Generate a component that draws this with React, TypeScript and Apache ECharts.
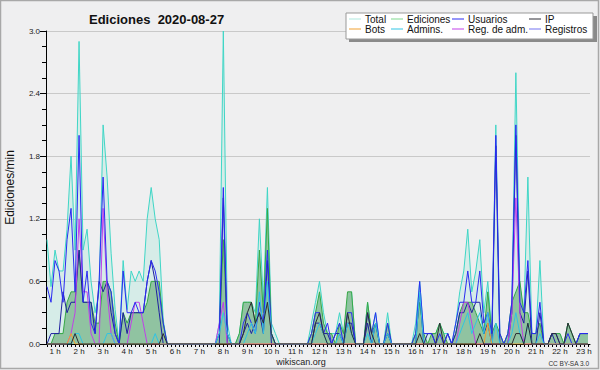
import React, { useEffect, useRef } from "react";
import * as echarts from "echarts";

// 10-minute bins; the first value shown is bin 4 (00:40)
const START_BIN = 4;
const HOUR_LABELS = ["1 h","2 h","3 h","4 h","5 h","6 h","7 h","8 h","9 h","10 h","11 h","12 h","13 h","14 h","15 h","16 h","17 h","18 h","19 h","20 h","21 h","22 h","23 h"];
const SERIES_NAMES = ["Total","Ediciones","Usuarios","IP","Bots","Admins.","Reg. de adm.","Registros"];

const total = [
  1.0, 0.55,
  0.9, 0.7, 0.7, 1.1, 1.8, 0.9,
  2.9, 0.9, 1.1, 0.6, 0.3, 0.5,
  2.1, 1.6, 0.87, 0.33, 0, 0.8,
  0.33, 0.7, 0.6, 0.7, 0.6, 1.2,
  1.5, 1.2, 1.0, 0.23, 0, 0,
  0, 0, 0, 0, 0, 0,
  0, 0, 0, 0, 0, 0.2,
  3.0, 0.2, 0, 0, 0.1, 0.4,
  0.4, 0.4, 0.3, 1.2, 0.4, 1.5,
  0.2, 0.1, 0, 0, 0, 0,
  0, 0, 0, 0, 0.2, 0.4,
  0.6, 0.3, 0.1, 0.1, 0.1, 0.3,
  0.1, 0.4, 0.5, 0, 0, 0,
  0.4, 0.1, 0.3, 0, 0, 0.3,
  0, 0, 0, 0, 0, 0,
  0.2, 0.6, 0.1, 0.1, 0.1, 0.1,
  0.2, 0.1, 0.1, 0, 0.2, 0.5,
  0.7, 1.1, 0.5, 0.7, 1.0, 0.3,
  0.6, 0.1, 2.1, 0.1, 0, 0.1,
  0.4, 2.6, 0.55, 0.3, 1.6, 0.1,
  0.1, 0.8, 0, 0, 0.1, 0.1,
  0.1, 0, 0.2, 0.1, 0, 0.1,
  0.1, 0.1,
];

const ediciones = [
  0, 0,
  0.1, 0.1, 0.1, 0.4, 0.5, 0.5,
  0.9, 0.4, 0.4, 0.4, 0.2, 0.2,
  0.6, 0.6, 0.5, 0.2, 0, 0.3,
  0.2, 0.3, 0.3, 0.3, 0.3, 0.4,
  0.6, 0.6, 0.6, 0.2, 0, 0,
  0, 0, 0, 0, 0, 0,
  0, 0, 0, 0, 0, 0.1,
  1.0, 0.1, 0, 0, 0.1, 0.4,
  0.4, 0.4, 0.2, 0.9, 0.3, 1.3,
  0.1, 0, 0, 0, 0, 0,
  0, 0, 0, 0, 0.1, 0.3,
  0.5, 0.2, 0.1, 0.1, 0, 0.2,
  0.1, 0.5, 0.5, 0, 0, 0,
  0.4, 0.1, 0.2, 0, 0, 0.2,
  0, 0, 0, 0, 0, 0,
  0.1, 0.4, 0.1, 0, 0.1, 0.1,
  0.2, 0.1, 0, 0, 0.1, 0.3,
  0.4, 0.4, 0.4, 0.3, 0.2, 0.1,
  0.5, 0.1, 0.2, 0.1, 0, 0.1,
  0.4, 0.5, 0.6, 0.3, 0.3, 0.1,
  0.1, 0.2, 0, 0, 0.1, 0.1,
  0.1, 0, 0.2, 0.1, 0, 0.1,
  0.1, 0.1,
];

const usuarios = [
  0.55, 0.4,
  0.8, 0.7, 0.4, 1.0, 1.3, 0.5,
  2.0, 0.4, 0.7, 0.2, 0.1, 0.6,
  1.6, 0.6, 0.5, 0.1, 0, 0.7,
  0.3, 0.3, 0.4, 0.3, 0.3, 0.6,
  0.8, 0.7, 0.5, 0.2, 0, 0,
  0, 0, 0, 0, 0, 0,
  0, 0, 0, 0, 0, 0.1,
  1.5, 0.1, 0, 0, 0, 0.2,
  0.3, 0.2, 0.1, 0.4, 0.2, 0.9,
  0.1, 0, 0, 0, 0, 0,
  0, 0, 0, 0, 0.1, 0.3,
  0.3, 0.1, 0.2, 0, 0.1, 0.2,
  0, 0.3, 0.3, 0, 0, 0,
  0.3, 0.1, 0.3, 0, 0, 0.2,
  0, 0, 0, 0, 0, 0,
  0.1, 0.6, 0.1, 0.1, 0.1, 0,
  0.1, 0, 0.1, 0, 0.2, 0.4,
  0.4, 0.7, 0.4, 0.4, 0.7, 0.2,
  0.3, 0.1, 2.0, 0.1, 0, 0.1,
  0.4, 2.1, 0.4, 0.3, 0.8, 0.1,
  0.1, 0.4, 0, 0, 0.1, 0.1,
  0, 0, 0.1, 0, 0, 0.1,
  0.1, 0.1,
];

const ip = [
  0, 0,
  0, 0, 0, 0, 0, 0.1,
  0, 0, 0, 0, 0, 0,
  0, 0, 0, 0, 0, 0,
  0, 0, 0, 0, 0, 0,
  0, 0, 0, 0.1, 0, 0,
  0, 0, 0, 0, 0, 0,
  0, 0, 0, 0, 0, 0,
  0, 0, 0, 0, 0, 0.1,
  0.3, 0.4, 0.2, 0.3, 0.2, 0.4,
  0.1, 0, 0, 0, 0, 0,
  0, 0, 0, 0, 0, 0.2,
  0.3, 0.1, 0, 0, 0, 0,
  0, 0.3, 0.1, 0, 0, 0,
  0.3, 0.1, 0, 0, 0, 0,
  0, 0, 0, 0, 0, 0,
  0, 0.1, 0, 0, 0, 0,
  0.2, 0, 0, 0, 0, 0,
  0, 0, 0, 0, 0.1, 0,
  0, 0, 0, 0, 0, 0,
  0, 0.1, 0.1, 0, 0.2, 0,
  0, 0, 0, 0, 0.1, 0.1,
  0, 0, 0.2, 0.1, 0, 0,
  0, 0,
];

const bots = [
  0, 0,
  0, 0, 0, 0, 0.1, 0,
  0, 0, 0, 0, 0, 0,
  0, 0, 0, 0, 0, 0,
  0, 0, 0, 0, 0, 0,
  0, 0, 0, 0, 0, 0,
  0, 0, 0, 0, 0, 0,
  0, 0, 0, 0, 0, 0,
  0, 0, 0, 0, 0, 0,
  0, 0, 0, 0, 0, 0,
  0, 0, 0, 0, 0, 0,
  0, 0, 0, 0, 0, 0,
  0, 0, 0, 0, 0, 0,
  0, 0, 0, 0, 0, 0,
  0, 0, 0, 0, 0, 0,
  0, 0, 0, 0, 0, 0,
  0, 0, 0, 0, 0, 0,
  0, 0, 0, 0, 0, 0,
  0, 0, 0, 0, 0, 0,
  0.2, 0, 0, 0, 0, 0,
  0, 0, 0, 0, 0, 0,
  0, 0, 0, 0, 0, 0,
  0, 0, 0, 0, 0, 0,
  0, 0,
];

const admins = [
  0, 0,
  0, 0, 0, 0, 0, 0.1,
  0.1, 0, 0, 0, 0, 0,
  0, 0.1, 0.1, 0, 0, 0,
  0, 0, 0, 0, 0, 0,
  0, 0.1, 0, 0, 0, 0,
  0, 0, 0, 0, 0, 0,
  0, 0, 0, 0, 0, 0.1,
  0.3, 0.1, 0, 0, 0, 0,
  0.1, 0.2, 0.1, 0.5, 0.1, 0.6,
  0.1, 0, 0, 0, 0, 0,
  0, 0, 0, 0, 0, 0.1,
  0.2, 0.1, 0, 0, 0, 0.1,
  0, 0.2, 0.1, 0, 0, 0,
  0.1, 0, 0.2, 0, 0, 0.1,
  0, 0, 0, 0, 0, 0,
  0, 0.5, 0, 0, 0, 0,
  0, 0, 0, 0, 0, 0.1,
  0.2, 0.3, 0.1, 0.2, 0.3, 0.1,
  0.3, 0, 0.2, 0, 0, 0,
  0.1, 0.3, 0.1, 0, 0.2, 0,
  0, 0.1, 0, 0, 0, 0,
  0, 0, 0, 0, 0, 0,
  0, 0,
];

const regAdm = [
  0, 0,
  0, 0, 0, 0, 0.1, 0.3,
  1.2, 0.5, 0.5, 0.1, 0, 0,
  1.3, 0.5, 0.1, 0, 0, 0,
  0, 0.2, 0.4, 0.4, 0.2, 0,
  0, 0, 0, 0, 0, 0,
  0, 0, 0, 0, 0, 0,
  0, 0, 0, 0, 0, 0.2,
  0.4, 0, 0, 0, 0, 0,
  0, 0, 0, 0, 0, 0,
  0, 0, 0, 0, 0, 0,
  0, 0, 0, 0, 0, 0,
  0, 0, 0, 0, 0, 0,
  0, 0, 0, 0, 0, 0,
  0, 0, 0, 0, 0, 0,
  0, 0, 0, 0, 0, 0,
  0, 0, 0, 0, 0, 0,
  0, 0, 0, 0, 0, 0.2,
  0.4, 0.4, 0.2, 0, 0, 0,
  0, 0, 0, 0, 0, 0,
  0.3, 1.4, 0.3, 0, 0, 0,
  0, 0, 0, 0, 0, 0,
  0, 0, 0, 0, 0, 0,
  0, 0,
];

const registros = [
  0, 0.1,
  0.1, 0.1, 0.5, 0.3, 0.4, 0.4,
  0.9, 0.4, 0.4, 0.4, 0.1, 0.6,
  0.5, 0.6, 0.3, 0.1, 0, 0.3,
  0.1, 0.3, 0.3, 0.3, 0.3, 0.6,
  0.8, 0.6, 0.3, 0, 0, 0,
  0, 0, 0, 0, 0, 0,
  0, 0, 0, 0, 0, 0,
  1.4, 0, 0, 0, 0, 0.1,
  0.2, 0.1, 0.2, 0.3, 0.1, 0.8,
  0, 0, 0, 0, 0, 0,
  0, 0, 0, 0, 0, 0.2,
  0.2, 0.1, 0.1, 0, 0.1, 0.1,
  0, 0.2, 0.2, 0, 0, 0,
  0.2, 0, 0.2, 0, 0, 0.1,
  0, 0, 0, 0, 0, 0,
  0, 0.5, 0, 0.1, 0.1, 0,
  0, 0, 0.1, 0, 0.1, 0.3,
  0.3, 0.4, 0.3, 0.4, 0.4, 0.1,
  0.2, 0, 1.9, 0, 0, 0,
  0.3, 2.0, 0.3, 0.2, 0.7, 0,
  0, 0.3, 0, 0, 0.1, 0,
  0, 0, 0, 0, 0, 0.1,
  0.1, 0.1,
];

const FONT = "Liberation Sans";

function pts(values: number[]) {
  return values.map((v, i) => [START_BIN + i, v]);
}

export default function App() {
  const ref = useRef<HTMLDivElement>(null);
  useEffect(() => {
    if (!ref.current) return;
    const chart = echarts.init(ref.current, undefined, { renderer: "svg" });
    const line = (name: string, data: number[], color: string, z: number, extra: any = {}) => ({
      name,
      type: "line",
      data: pts(data),
      symbol: "none",
      lineStyle: { color, width: 1 },
      itemStyle: { color },
      z,
      ...extra,
    });
    const hourValues = HOUR_LABELS.map((_, i) => (i + 1) * 6);
    const tickValues: number[] = [];
    for (let b = START_BIN; b < START_BIN + total.length; b++) tickValues.push(b);
    const legendCol = (names: any[], left: number) => ({
      data: names,
      orient: "vertical",
      left,
      top: 14,
      z: 30,
      itemGap: 0,
      itemWidth: 12,
      itemHeight: 1,
      icon: "rect",
      padding: 0,
      selectedMode: false,
      textStyle: { fontFamily: FONT, fontSize: 10, color: "#111", lineHeight: 10, padding: [0, 0, 0, -1] },
    });
    chart.setOption({
      animation: false,
      backgroundColor: "#efeff0",
      textStyle: { fontFamily: FONT },
      title: {
        text: "Ediciones  2020-08-27",
        left: 84,
        top: 8,
        textStyle: { fontFamily: FONT, fontSize: 13, fontWeight: "bold", color: "#111" },
      },
      legend: [
        legendCol([{ name: SERIES_NAMES[0], itemStyle: { color: "#aee8df" } }, SERIES_NAMES[4]], 349),
        legendCol([{ name: SERIES_NAMES[1], itemStyle: { color: "#7fd88e" } }, SERIES_NAMES[5]], 391),
        legendCol([SERIES_NAMES[2], SERIES_NAMES[6]], 452),
        legendCol([SERIES_NAMES[3], { name: SERIES_NAMES[7], itemStyle: { color: "#7272f0" } }], 529),
      ],
      grid: { left: 46, right: 10, top: 31, bottom: 26, outerBoundsMode: "none" },
      xAxis: {
        type: "value",
        min: 3.75,
        max: 139.5,
        axisLine: { show: true, lineStyle: { color: "#000", width: 1 } },
        axisTick: { show: true, customValues: tickValues, length: 3, lineStyle: { color: "#000" } },
        axisLabel: {
          customValues: hourValues,
          formatter: (v: number) => HOUR_LABELS[Math.round(v / 6) - 1],
          fontSize: 8,
          color: "#222",
          margin: 3,
          fontFamily: FONT,
        },
        splitLine: { show: false },
      },
      yAxis: {
        type: "value",
        min: 0,
        max: 3,
        interval: 0.6,
        name: "Ediciones/min",
        nameLocation: "middle",
        nameRotate: 90,
        nameGap: 30,
        nameTextStyle: { fontFamily: FONT, fontSize: 12, color: "#111" },
        axisLine: { show: true, lineStyle: { color: "#000", width: 1 } },
        axisTick: { show: true, length: 6, lineStyle: { color: "#000" } },
        minorTick: { show: true, splitNumber: 4, length: 4, lineStyle: { color: "#000" } },
        axisLabel: {
          formatter: (v: number) => v.toFixed(1),
          fontSize: 8,
          color: "#222",
          margin: 6,
          fontFamily: FONT,
        },
        splitLine: { show: true, lineStyle: { color: "#c9c9c9", width: 1 } },
      },
      series: [
        line(SERIES_NAMES[0], total, "#3fd6c6", 2, { areaStyle: { color: "rgba(178,232,222,0.6)" } }),
        line(SERIES_NAMES[1], ediciones, "#36a846", 3, { areaStyle: { color: "#8cc19d", opacity: 0.95 } }),
        line(SERIES_NAMES[7], registros, "#1f1fa0", 4),
        line(SERIES_NAMES[6], regAdm, "#c040e8", 4),
        line(SERIES_NAMES[2], usuarios, "#2a2af2", 5),
        line(SERIES_NAMES[5], admins, "#30c4e4", 5),
        line(SERIES_NAMES[4], bots, "#f0a030", 5),
        line(SERIES_NAMES[3], ip, "#2c2c34", 6),
      ],
      graphic: [
        { type: "rect", z: 1, shape: { x: 0.5, y: 0.5, width: 598, height: 368 }, style: { fill: "none", stroke: "#a8a8a8", lineWidth: 1.5 } },
        { type: "rect", z: 10, shape: { x: 349, y: 16, width: 248, height: 26 }, style: { fill: "#8a8a8a" } },
        { type: "rect", z: 11, shape: { x: 346, y: 13, width: 247, height: 26 }, style: { fill: "#ffffff", stroke: "#999", lineWidth: 1 } },
        { type: "text", z: 11, style: { text: "wikiscan.org", x: 301, y: 362, align: "center", verticalAlign: "middle", fontFamily: FONT, fontSize: 9, fill: "#222" } },
        { type: "text", z: 11, style: { text: "CC BY-SA 3.0", x: 589, y: 363, align: "right", verticalAlign: "middle", fontFamily: FONT, fontSize: 6.5, fill: "#333" } },
      ],
    });
    return () => chart.dispose();
  }, []);
  return <div ref={ref} style={{ position: "fixed", left: 0, top: 0, width: 600, height: 370 }} />;
}
